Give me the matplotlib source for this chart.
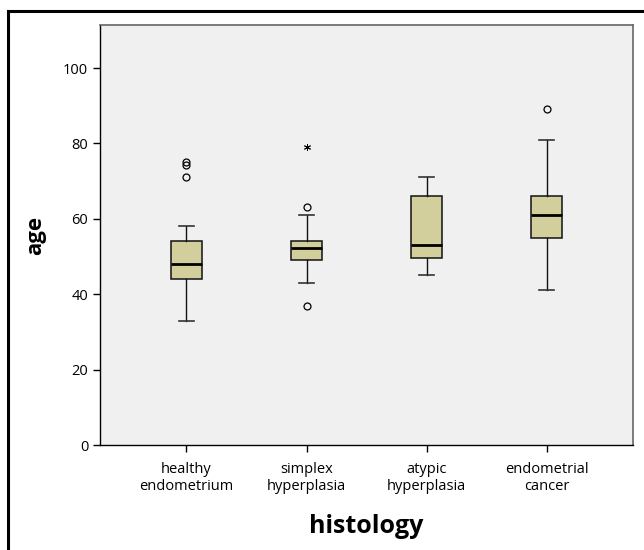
import matplotlib
matplotlib.use("Agg")
import matplotlib.pyplot as plt
from matplotlib.lines import Line2D

plt.rcParams['font.family'] = ['Open Sans', 'DejaVu Sans']

# box statistics (age per histology group)
labels = ['healthy\nendometrium', 'simplex\nhyperplasia', 'atypic\nhyperplasia', 'endometrial\ncancer']
whislo = [33, 43, 45, 41]
q1 = [44, 49, 49.6, 55]
med = [48, 52.2, 53, 61]
q3 = [54, 54, 66, 66]
whishi = [58, 61, 71, 81]
outliers = [[71, 74.3, 75], [37, 63], [], [89]]
extremes = [[], [79], [], []]   # drawn as stars

BOX_COLOR = '#d3cf9c'
BG_COLOR = '#f0f0f0'


def main():
    fig = plt.figure(figsize=(6.44, 5.5), dpi=100)
    ax = fig.add_axes([0.1553, 0.1909, 0.8277, 0.7636])
    ax.set_facecolor(BG_COLOR)

    stats = []
    for i in range(len(labels)):
        stats.append(dict(whislo=whislo[i], q1=q1[i], med=med[i], q3=q3[i],
                          whishi=whishi[i], fliers=outliers[i], label=labels[i]))

    pos = list(range(1, len(labels) + 1))
    ax.bxp(stats, positions=pos, widths=0.26, patch_artist=True,
           boxprops=dict(facecolor=BOX_COLOR, edgecolor='#111111', linewidth=1.1),
           medianprops=dict(color='black', linewidth=2),
           whiskerprops=dict(color='#111111', linewidth=1),
           capprops=dict(color='#333333', linewidth=1.2),
           capwidths=0.12,
           flierprops=dict(marker='o', markerfacecolor='none', markeredgecolor='black',
                           markersize=5, markeredgewidth=0.9))

    # extreme values (SPSS star)
    for p, ex in zip(pos, extremes):
        if ex:
            ax.plot([p] * len(ex), ex, linestyle='none', marker=(6, 2, 0),
                    markersize=5, color='black', markeredgewidth=0.7)

    ax.set_xlim(0.28, 4.72)
    ax.set_ylim(0, 111.4)
    ax.set_yticks([0, 20, 40, 60, 80, 100])
    ax.set_xticks(pos)
    ax.set_xticklabels(labels, fontsize=10.5, linespacing=1.25)
    ax.tick_params(axis='y', labelsize=10.5, length=5, width=1, direction='out')
    ax.tick_params(axis='x', length=5, width=1, direction='out', pad=7)

    for s in ['left', 'bottom']:
        ax.spines[s].set_color('black')
        ax.spines[s].set_linewidth(1)
    for s in ['top', 'right']:
        ax.spines[s].set_color('#666666')
        ax.spines[s].set_linewidth(1.2)

    ax.set_ylabel('age', fontsize=16, fontweight='bold', labelpad=12)
    ax.set_xlabel('histology', fontsize=18, fontweight='bold', labelpad=14)

    # outer frame (top and left edge visible)
    fig.add_artist(Line2D([0.0124, 1.0], [0.98, 0.98], color='black', linewidth=2.2))
    fig.add_artist(Line2D([0.0124, 0.0124], [0.0, 0.98], color='black', linewidth=2.2))

    fig.savefig('out.png', dpi=100)


if __name__ == '__main__':
    main()
